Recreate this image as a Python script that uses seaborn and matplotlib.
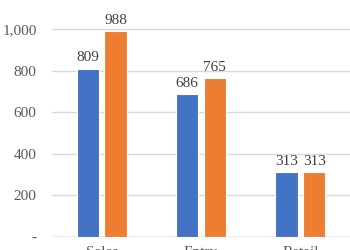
import matplotlib
matplotlib.use("Agg")
import matplotlib.pyplot as plt
import seaborn as sns
import pandas as pd
from matplotlib.ticker import FixedLocator, FuncFormatter

categories = ["Sales", "Entry", "Retail"]
series_names = ["2022", "2023"]
series_a = [809, 686, 313]
series_b = [988, 765, 313]
ytick_values = [0, 200, 400, 600, 800, 1000]
ytick_labels = ["-", "200", "400", "600", "800", "1,000"]

df = pd.DataFrame({
    "category": categories * 2,
    "series": [series_names[0]] * 3 + [series_names[1]] * 3,
    "value": series_a + series_b,
})

sns.set_theme(style="white")
plt.rcParams["font.family"] = ["Liberation Serif", "DejaVu Serif"]

fig = plt.figure(figsize=(3.5, 2.5), dpi=100)
ax = fig.add_axes([52 / 350, 13 / 250, 298 / 350, 237 / 250])

sns.barplot(data=df, x="category", y="value", hue="series",
            palette=["#4472C4", "#ED7D31"], saturation=1, width=0.56, gap=0.2,
            edgecolor="white", linewidth=0.8, legend=False, ax=ax)

for cont in ax.containers:
    ax.bar_label(cont, fmt="{:.0f}", padding=3, fontsize=11, color="#404040")

ax.set_xlim(-0.5, 2.5)
ax.set_ylim(0, 1139)
ax.yaxis.set_major_locator(FixedLocator(ytick_values))
ax.yaxis.set_major_formatter(FuncFormatter(lambda v, p: ytick_labels[ytick_values.index(int(round(v)))] if int(round(v)) in ytick_values else ""))
ax.grid(axis="y", color="#D9D9D9", linewidth=1)
ax.set_axisbelow(True)
for s in ax.spines.values():
    s.set_visible(False)
ax.axhline(0, color="#BFBFBF", linewidth=1, zorder=0)
ax.tick_params(axis="y", length=0, pad=11, labelsize=11, labelcolor="#595959")
ax.tick_params(axis="x", length=0, pad=6.5, labelsize=11, labelcolor="#595959")
ax.set_xlabel("")
ax.set_ylabel("")

fig.savefig("out.png", dpi=100)
